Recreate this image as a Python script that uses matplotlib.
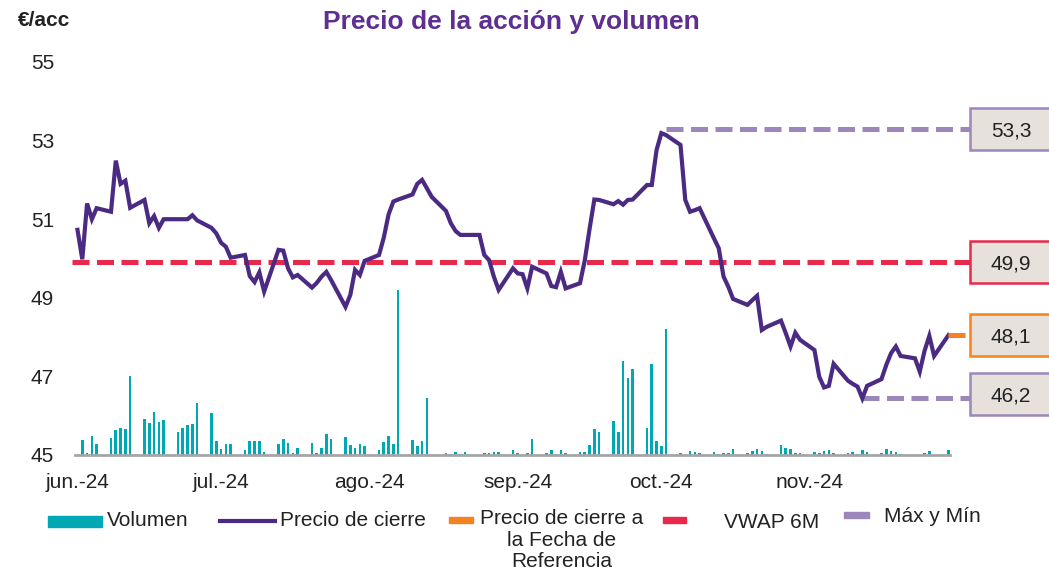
import matplotlib
matplotlib.use("Agg")
import matplotlib.pyplot as plt
import matplotlib.dates as mdates
import matplotlib.transforms as mtransforms
from matplotlib.patches import Rectangle
from matplotlib.lines import Line2D
import numpy as np
import pandas as pd

plt.rcParams['font.family'] = ['Liberation Sans', 'DejaVu Sans']

# trading days (Mon-Fri), 3 Jun 2024 -> 2 Dec 2024
dates = pd.bdate_range('2024-06-03', '2024-12-02')

# closing price, EUR/share (one row per week)
price = [
    50.73, 49.98, 51.40, 51.00, 51.28,
    51.19, 52.49, 51.90, 51.98, 51.29,
    51.49, 50.90, 51.08, 50.78, 51.00,
    51.00, 51.00, 51.00, 51.10, 50.97,
    50.78, 50.64, 50.40, 50.30, 50.02,
    50.09, 49.55, 49.40, 49.65, 49.16,
    50.22, 50.20, 49.75, 49.52, 49.58,
    49.26, 49.38, 49.54, 49.66, 49.45,
    48.77, 49.07, 49.71, 49.58, 49.94,
    50.09, 50.53, 51.12, 51.45, 51.50,
    51.63, 51.90, 52.00, 51.79, 51.57,
    51.21, 50.90, 50.70, 50.60, 50.60,
    50.60, 50.09, 49.96, 49.54, 49.20,
    49.75, 49.62, 49.60, 49.24, 49.79,
    49.62, 49.30, 49.27, 49.66, 49.24,
    49.37, 49.95, 50.75, 51.50, 51.49,
    51.38, 51.46, 51.37, 51.49, 51.50,
    51.87, 51.87, 52.76, 53.19, 53.14,
    52.89, 51.49, 51.19, 51.23, 51.28,
    50.51, 50.26, 49.54, 49.28, 48.97,
    48.82, 48.94, 49.05, 48.18, 48.26,
    48.42, 48.10, 47.76, 48.11, 47.93,
    47.67, 46.99, 46.72, 46.76, 47.32,
    46.89, 46.81, 46.74, 46.44, 46.76,
    46.93, 47.29, 47.59, 47.76, 47.52,
    47.46, 47.12, 47.65, 48.03, 47.52,
    48.05,
]

# traded volume (relative units)
volume = [
    0, 15, 2, 18.5, 11,
    17, 25, 27, 25.5, 78,
    36, 32, 43, 33, 35,
    22.5, 26.5, 29.5, 30.5, 52,
    42, 14, 6, 11, 10.5,
    5, 13.5, 14, 13.5, 3,
    11, 16, 12, 2, 7,
    11.5, 2, 7, 21, 16,
    18, 9.5, 7, 10.5, 8.5,
    4.5, 12.5, 18.5, 10.5, 163.5,
    15, 9, 14, 56.5, 0,
    2.3, 1.3, 3.3, 0.7, 3.3,
    0, 1.7, 1.7, 3, 3,
    5, 1.7, 0, 1.7, 15.7,
    1.7, 4.7, 1, 5, 2.3,
    3, 3.3, 9.7, 26, 23.3,
    34, 23, 93, 76, 85,
    26.3, 90.7, 13.7, 8.7, 125,
    2.3, 0, 4.3, 3, 1.7,
    3, 1, 1.7, 1.7, 6.3,
    1.7, 3.7, 5.7, 3.7, 1,
    10, 7.3, 6.3, 1.7, 1.7,
    3, 2.3, 3.7, 5, 1.7,
    2.3, 3, 1, 5, 3,
    2.3, 6.3, 4.3, 3, 1,
    0, 0, 1.7, 3.7, 0,
    5,
]

vwap_6m = 49.9
max_price = 53.3
ref_price = 48.1
min_price = 46.2

month_ticks = ['2024-06-03', '2024-07-03', '2024-08-03',
               '2024-09-03', '2024-10-03', '2024-11-03']
month_labels = ['jun.-24', 'jul.-24', 'ago.-24', 'sep.-24', 'oct.-24', 'nov.-24']

C_PRICE = '#4B2A84'
C_TITLE = '#5E2E91'
C_VOL = '#00A7B5'
C_VWAP = '#E8294B'
C_MAXMIN = '#9C87BA'
C_REF = '#F58220'
C_BOX = '#E6E1DB'

W, H = 1049, 573
fig = plt.figure(figsize=(W / 100, H / 100), dpi=100)
ax_l, ax_r, ax_t, ax_b = 72, 970, 62, 455
ax = fig.add_axes([ax_l / W, 1 - ax_b / H, (ax_r - ax_l) / W, (ax_b - ax_t) / H])
ax2 = ax.twinx()
ax.set_zorder(ax2.get_zorder() + 1)
ax.patch.set_visible(False)

x = mdates.date2num(dates)
p = np.array(price)
day = 1.0

# volume bars on hidden secondary axis
ax2.bar(x, volume, width=0.55, color=C_VOL, zorder=2)
ax2.set_ylim(0, 390)
ax2.set_yticks([])
for s in ax2.spines.values():
    s.set_visible(False)

# price line
ax.plot(x, p, color=C_PRICE, lw=3.0, solid_joinstyle='miter', zorder=4)

dash = (3.4, 1.5)
# VWAP 6M
ax.axhline(vwap_6m, color=C_VWAP, lw=3.6, dashes=dash, dash_capstyle='butt', zorder=3)
# max / min lines
i_max, i_min = int(np.argmax(p)), int(np.argmin(p))
x_end = x[-1] + 4.6 * day
ax.plot([x[i_max] + 1, x_end], [max_price, max_price], color=C_MAXMIN, lw=3.6,
        dashes=dash, dash_capstyle='butt', zorder=3, clip_on=False)
ax.plot([x[i_min], x_end], [p[i_min], p[i_min]], color=C_MAXMIN, lw=3.6,
        dashes=dash, dash_capstyle='butt', zorder=3, clip_on=False)
# reference close price
ax.plot([x[-1], x[-1] + 3.4 * day], [p[-1], p[-1]], color=C_REF, lw=3.6,
        solid_capstyle='butt', zorder=4)

ax.set_xlim(x[0] - 1.15 * day, x[0] + 186.5 * day)
ax.set_ylim(45, 55)
ax.set_yticks(np.arange(45, 56, 2))
ax.set_yticklabels([str(v) for v in range(45, 56, 2)])
ax.set_xticks(mdates.date2num(pd.to_datetime(month_ticks)))
ax.set_xticklabels(month_labels)
ax.tick_params(axis='both', length=0, labelsize=15, colors='#222222')
ax.tick_params(axis='y', pad=13)
ax.tick_params(axis='x', pad=13)
for side in ['top', 'left', 'right']:
    ax.spines[side].set_visible(False)
ax.spines['bottom'].set_color('#A6A6A6')
ax.spines['bottom'].set_linewidth(2)
ax.spines['bottom'].set_bounds(x[0] - 0.5 * day, x[-1] + 0.3 * day)

# value boxes on the right
trans = mtransforms.blended_transform_factory(ax.transAxes, ax.transData)
ax_w = ax_r - ax_l
boxes = [
    (max_price, max_price, C_MAXMIN),
    (vwap_6m, vwap_6m, C_VWAP),
    (p[-1], ref_price, C_REF),
    (p[i_min] + 0.1, min_price, C_MAXMIN),
]
box_h = 42 / 39.3
for level, val, col in boxes:
    ax.add_patch(Rectangle((1.0, level - box_h / 2), 95 / ax_w, box_h, transform=trans,
                           facecolor=C_BOX, edgecolor=col, lw=1.8, clip_on=False, zorder=6))
    ax.text(1.0 + 41 / ax_w, level, f'{val:.1f}'.replace('.', ','), transform=trans,
            ha='center', va='center_baseline', fontsize=15, color='#222222', zorder=7)

# titles
fig.text(511 / W, 1 - 22 / H, 'Precio de la acción y volumen', ha='center', va='center',
         fontsize=19, fontweight='bold', color=C_TITLE)
fig.text(18 / W, 1 - 20 / H, '€/acc', ha='left', va='center', fontsize=15,
         fontweight='bold', color='#222222')


# legend, built by hand (Excel style)
def fx(px):
    return px / W


def fy(py):
    return 1 - py / H


def leg_rect(x0, x1, y0, y1, color):
    fig.add_artist(Rectangle((fx(x0), fy(y1)), fx(x1) - fx(x0), fy(y0) - fy(y1),
                             transform=fig.transFigure, color=color))


leg_rect(48, 102, 516, 527, C_VOL)
fig.text(fx(107), fy(521), 'Volumen', ha='left', va='center', fontsize=15, color='#222222')
fig.add_artist(Line2D([fx(220), fx(275)], [fy(521), fy(521)], color=C_PRICE, lw=3,
                      transform=fig.transFigure))
fig.text(fx(280), fy(521), 'Precio de cierre', ha='left', va='center', fontsize=15, color='#222222')
leg_rect(449, 473, 517, 523, C_REF)
fig.text(fx(562), fy(540), 'Precio de cierre a\nla Fecha de\nReferencia', ha='center',
         va='center', fontsize=15, color='#222222', linespacing=1.15)
leg_rect(663, 686, 517, 523, C_VWAP)
fig.text(fx(724), fy(522), 'VWAP 6M', ha='left', va='center', fontsize=15, color='#222222')
leg_rect(844, 869, 512, 518, C_MAXMIN)
fig.text(fx(884), fy(517), 'Máx y Mín', ha='left', va='center', fontsize=15, color='#222222')

fig.savefig('out.png', dpi=100)
